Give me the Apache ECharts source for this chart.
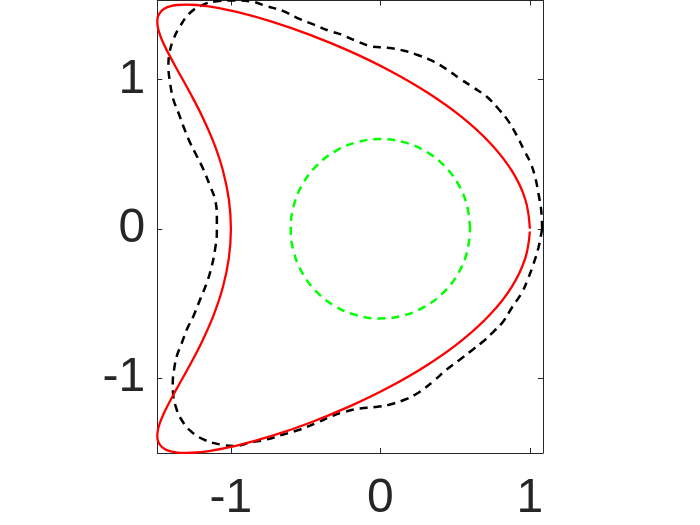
<!DOCTYPE html>
<html>
<head>
<meta charset="utf-8">
<script src="https://cdn.jsdelivr.net/npm/echarts@6/dist/echarts.min.js"></script>
<style>
html,body{margin:0;padding:0;background:#fff;}
#chart{width:700px;height:525px;}
</style>
</head>
<body>
<div id="chart"></div>
<script>
// Tick labels
const xTicks = [-1, 0, 1];
const yTicks = [-1, 0, 1];

// Exact boundary (red solid)
const exactBoundary = [
  [1.0,0],[0.96929,0.19579],[0.87885,0.38823],[0.73350,0.57403],[0.54103,0.75],[0.31158,0.91314],
  [0.05711,1.06066],[-0.20947,1.19003],[-0.475,1.29904],[-0.72694,1.38582],[-0.95410,1.44889],
  [-1.14732,1.48716],[-1.22904,1.49679],[-1.3,1.5],[-1.35984,1.49679],[-1.40838,1.48716],
  [-1.44561,1.47119],[-1.47174,1.44889],[-1.48712,1.42040],[-1.49230,1.38582],[-1.48798,1.34531],
  [-1.475,1.29904],[-1.45431,1.24720],[-1.42699,1.19003],[-1.35711,1.06066],[-1.27512,0.91314],
  [-1.19103,0.75],[-1.11426,0.57403],[-1.05301,0.38823],[-1.01359,0.19579],[-1,0],
  [-1.01359,-0.19579],[-1.05301,-0.38823],[-1.11426,-0.57403],[-1.19103,-0.75],[-1.27512,-0.91314],
  [-1.35711,-1.06066],[-1.42699,-1.19003],[-1.45431,-1.24720],[-1.475,-1.29904],[-1.48798,-1.34531],
  [-1.49230,-1.38582],[-1.48712,-1.42040],[-1.47174,-1.44889],[-1.44561,-1.47119],[-1.40838,-1.48716],
  [-1.35984,-1.49679],[-1.3,-1.5],[-1.22904,-1.49679],[-1.14732,-1.48716],[-0.95410,-1.44889],
  [-0.72694,-1.38582],[-0.475,-1.29904],[-0.20947,-1.19003],[0.05711,-1.06066],[0.31158,-0.91314],
  [0.54103,-0.75],[0.73350,-0.57403],[0.87885,-0.38823],[0.96929,-0.19579],[0.9997,-0.0183]
];

// Reconstruction (black dashed)
const reconstruction = [
  [1.082,0],[1.075,0.129],[1.057,0.236],[1.039,0.330],[1.006,0.437],[0.961,0.526],[0.912,0.624],
  [0.856,0.720],[0.789,0.803],[0.712,0.883],[0.622,0.945],[0.533,1.003],[0.444,1.066],[0.355,1.119],
  [0.259,1.159],[0.159,1.191],[0.047,1.211],[-0.064,1.221],[-0.165,1.258],[-0.263,1.300],
  [-0.336,1.322],[-0.448,1.367],[-0.559,1.411],[-0.649,1.456],[-0.760,1.489],[-0.872,1.522],
  [-0.972,1.527],[-1.094,1.522],[-1.184,1.500],[-1.273,1.445],[-1.340,1.355],[-1.385,1.266],
  [-1.411,1.177],[-1.418,1.088],[-1.407,0.977],[-1.385,0.865],[-1.351,0.776],[-1.318,0.686],
  [-1.273,0.575],[-1.228,0.486],[-1.184,0.397],[-1.139,0.285],[-1.106,0.196],[-1.094,0.084],
  [-1.094,-0.027],[-1.106,-0.138],[-1.128,-0.250],[-1.161,-0.361],[-1.206,-0.473],[-1.251,-0.585],
  [-1.295,-0.674],[-1.328,-0.763],[-1.362,-0.852],[-1.380,-0.941],[-1.389,-1.030],[-1.385,-1.120],
  [-1.367,-1.195],[-1.340,-1.262],[-1.274,-1.349],[-1.184,-1.409],[-1.072,-1.443],[-0.972,-1.453],
  [-0.872,-1.431],[-0.760,-1.409],[-0.649,-1.376],[-0.537,-1.343],[-0.425,-1.298],[-0.314,-1.249],
  [-0.236,-1.224],[-0.136,-1.202],[-0.035,-1.193],[0.065,-1.175],[0.165,-1.142],[0.254,-1.097],
  [0.355,-1.019],[0.444,-0.941],[0.533,-0.874],[0.611,-0.814],[0.689,-0.752],[0.756,-0.689],
  [0.823,-0.618],[0.879,-0.528],[0.946,-0.428],[0.990,-0.328],[1.023,-0.239],[1.057,-0.127],[1.082,0]
];

// Initial guess (green dashed)
const initialGuess = [
  [0.6,0],[0.57956,0.15529],[0.51962,0.3],[0.42426,0.42426],[0.3,0.51962],[0.15529,0.57956],
  [0,0.6],[-0.15529,0.57956],[-0.3,0.51962],[-0.42426,0.42426],[-0.51962,0.3],[-0.57956,0.15529],
  [-0.6,0],[-0.57956,-0.15529],[-0.51962,-0.3],[-0.42426,-0.42426],[-0.3,-0.51962],[-0.15529,-0.57956],
  [0,-0.6],[0.15529,-0.57956],[0.3,-0.51962],[0.42426,-0.42426],[0.51962,-0.3],[0.57956,-0.15529],[0.6,0]
];

const XMIN = -1.4923, XMAX = 1.087, YMIN = -1.5, YMAX = 1.527;
const axisColor = '#262626';
const fontFamily = '"Liberation Sans", Arial, Helvetica, sans-serif';

function xAx(pos, labels) {
  return {
    type: 'value', position: pos, min: XMIN, max: XMAX,
    axisLine: { show: true, onZero: false, lineStyle: { color: axisColor, width: 1 } },
    axisTick: { show: true, inside: true, length: 5, customValues: xTicks, lineStyle: { color: axisColor } },
    axisLabel: { show: labels, customValues: xTicks, fontSize: 48, color: axisColor, fontFamily: fontFamily, margin: 22 },
    splitLine: { show: false }
  };
}
function yAx(pos, labels) {
  return {
    type: 'value', position: pos, min: YMIN, max: YMAX,
    axisLine: { show: true, onZero: false, lineStyle: { color: axisColor, width: 1 } },
    axisTick: { show: true, inside: true, length: 5, customValues: yTicks, lineStyle: { color: axisColor } },
    axisLabel: { show: labels, customValues: yTicks, fontSize: 48, color: axisColor, fontFamily: fontFamily, margin: 12 },
    splitLine: { show: false }
  };
}

const chart = echarts.init(document.getElementById('chart'), null, { renderer: 'canvas' });
chart.setOption({
  animation: false,
  backgroundColor: '#ffffff',
  grid: { left: 157.3, top: 0.5, width: 385.6, height: 452.5, containLabel: false },
  xAxis: [xAx('bottom', true), xAx('top', false)],
  yAxis: [yAx('left', true), yAx('right', false)],
  series: [
    { type: 'line', data: reconstruction, smooth: 0.4, symbol: 'none', xAxisIndex: 0, yAxisIndex: 0,
      lineStyle: { color: '#000000', width: 2.5, type: [8, 6] }, z: 2 },
    { type: 'line', data: exactBoundary, smooth: 0.4, symbol: 'none', xAxisIndex: 0, yAxisIndex: 0,
      lineStyle: { color: '#ff0000', width: 2.3 }, z: 3 },
    { type: 'line', data: initialGuess, smooth: 0.4, symbol: 'none', xAxisIndex: 0, yAxisIndex: 0,
      lineStyle: { color: '#00ff00', width: 2.5, type: [8, 6] }, z: 2 }
  ]
});
</script>
</body>
</html>
